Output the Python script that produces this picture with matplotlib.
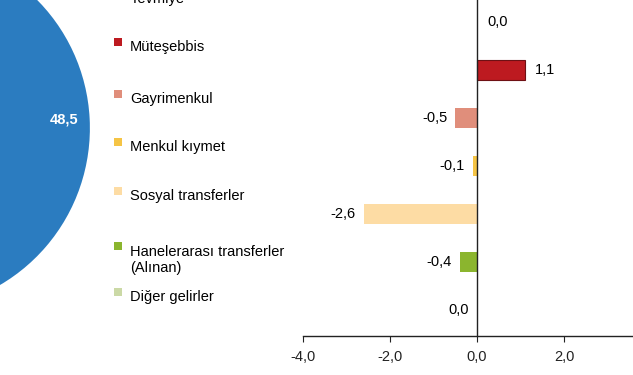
import numpy as np
import matplotlib.pyplot as plt
from matplotlib.ticker import FuncFormatter

plt.rcParams['font.family'] = ['Liberation Sans', 'DejaVu Sans']

# pasta dilimi (yalnizca maas-ucret dilimi gorunuyor)
pie_values = [48.5, 51.5]
pie_colors = ['#2b7cc0', '#9dc3e6']

# gelir turlerine gore pay degisimi
categories = ['Yevmiye', 'Müteşebbis', 'Gayrimenkul', 'Menkul kıymet',
              'Sosyal transferler', 'Hanelerarası transferler\n(Alınan)',
              'Diğer gelirler']
changes = [0.0, 1.1, -0.5, -0.1, -2.6, -0.4, -0.0]
bar_colors = ['#8db3e2', '#bd1a20', '#e08e7b', '#f5c445', '#fddca4',
              '#8bb52e', '#cbd9a6']

fs = 10.5

fig = plt.figure(figsize=(6.33, 3.75), dpi=100)

# pasta
pax = fig.add_axes([-0.433, 0.173, 0.575, 0.971])
pax.pie(pie_values, colors=pie_colors, startangle=90.3, counterclock=False,
        autopct=lambda p: f'{p:.1f}'.replace('.', ',') if p < 50 else '',
        pctdistance=0.86,
        textprops=dict(color='white', fontweight='bold', fontsize=fs))
pax.set_xlim(-1, 1)
pax.set_ylim(-1, 1)

# cubuklar
ax = fig.add_axes([0.4787, 0.104, 0.5498, 0.965])
y = np.arange(len(categories))
edges = ['none'] * len(categories)
edges[1] = '#6e1014'
ax.barh(y, changes, height=0.42, color=bar_colors, edgecolor=edges,
        linewidth=0.8)

for i, v in enumerate(changes):
    txt = f'{abs(v):.1f}' if v == 0 else f'{v:.1f}'
    txt = txt.replace('.', ',')
    if np.signbit(v):
        ax.annotate(txt, xy=(v, i), xytext=(-8, 0), textcoords='offset pixels',
                    ha='right', va='center', fontsize=fs)
    else:
        ax.annotate(txt, xy=(v, i), xytext=(10, 0), textcoords='offset pixels',
                    ha='left', va='center', fontsize=fs)

ax.set_xlim(-4, 4)
ax.set_ylim(6.54, -1)
ax.set_xticks([-4, -2, 0, 2])
ax.xaxis.set_major_formatter(FuncFormatter(lambda v, p: f'{v:.1f}'.replace('.', ',')))
ax.set_yticks([])
ax.spines['top'].set_visible(False)
ax.spines['right'].set_visible(False)
ax.spines['left'].set_position(('data', 0))
for s in ['left', 'bottom']:
    ax.spines[s].set_color('#222222')
    ax.spines[s].set_linewidth(1)
ax.tick_params(axis='x', direction='out', length=4, width=0.8,
               colors='#222222', labelsize=fs, pad=6)
ax.patch.set_alpha(0)

# lejant (piksel koordinatlarinda)
lax = fig.add_axes([0, 0, 1, 1])
lax.set_xlim(0, 633)
lax.set_ylim(375, 0)
lax.axis('off')
legend_first_line = [-1, 47, 99, 147, 196, 251, 297]
line_h = 17.5
for lab, col, y0 in zip(categories, bar_colors, legend_first_line):
    n = lab.count('\n') + 1
    lax.scatter([118], [y0 - 5], marker='s', s=26, color=col, linewidths=0)
    lax.text(130, y0 + (n - 1) * line_h / 2, lab, ha='left', va='center',
             fontsize=fs, linespacing=1.2)

fig.savefig('out.png', dpi=100)
